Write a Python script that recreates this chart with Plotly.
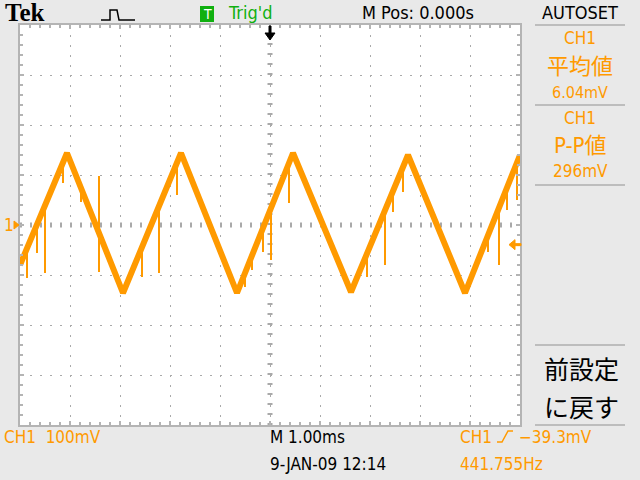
import plotly.graph_objects as go

wave_time_ms = [-5.0, -4.06, -2.94, -1.78, -0.66, 0.46, 1.62, 2.76, 3.90, 5.0]
wave_mV = [-80, 144, -136, 144, -136, 144, -134, 140, -136, 140]

spike_time_ms = [-4.86, -4.66, -4.50, -4.14, -3.78, -3.42, -2.56, -2.22, -1.86,
                 -0.50, -0.36, -0.14, 0.02, 0.38, 1.94, 2.30, 2.46, 2.66,
                 4.36, 4.58, 4.74, 4.94]
spike_top_mV = [-52, -4, 36, 124, 74, 98, -44, 38, 124,
                -96, -60, -6, 34, 124, -58, 30, 68, 116,
                -20, 34, 74, 126]
spike_bottom_mV = [-106, -56, -96, 84, 46, -94, -104, -96, 60,
                   -124, -90, -54, -70, 44, -104, -80, 26, 66,
                   -54, -80, 30, 50]

trigger_level_mV = -39.3

ORANGE = "#FF9A00"
GREY_BG = "#E9E9E9"
GRID = "#A9A9A9"
FONT = "Liberation Sans Narrow, DejaVu Sans Condensed, Arial Narrow, sans-serif"

# plot area in pixels: x 20..520, y 25..425
def PX(x):
    return (x - 20) / 500.0

def PY(y):
    return (425 - y) / 400.0

fig = go.Figure()

fig.add_trace(go.Scatter(x=wave_time_ms, y=wave_mV, mode="lines",
                         line=dict(color=ORANGE, width=6), hoverinfo="skip"))

sx, sy = [], []
for t, a, b in zip(spike_time_ms, spike_top_mV, spike_bottom_mV):
    sx += [t, t, None]
    sy += [a, b, None]
fig.add_trace(go.Scatter(x=sx, y=sy, mode="lines",
                         line=dict(color=ORANGE, width=2), hoverinfo="skip"))

axis_common = dict(showticklabels=False, showgrid=True, gridcolor=GRID, gridwidth=1,
                   griddash="2px,8px", zeroline=False, showline=True, linecolor="#B4B4B4",
                   linewidth=2, mirror="allticks", ticks="inside", ticklen=4,
                   tickcolor="#B4B4B4", tickwidth=2, fixedrange=True)

fig.update_xaxes(range=[-5, 5], dtick=1, tick0=0,
                 minor=dict(dtick=0.2, ticks="inside", ticklen=3, tickcolor="#B4B4B4",
                            tickwidth=2, showgrid=False),
                 **axis_common)
fig.update_yaxes(range=[-400, 400], dtick=100, tick0=0,
                 minor=dict(dtick=20, ticks="inside", ticklen=3, tickcolor="#B4B4B4",
                            tickwidth=2, showgrid=False),
                 **axis_common)

shapes = []
# centre cross-hair tick marks
shapes.append(dict(type="line", xref="x", yref="y", x0=0, x1=0, y0=-400, y1=400,
                   line=dict(color=GRID, width=5, dash="2px,8px"), layer="below"))
shapes.append(dict(type="line", xref="x", yref="y", x0=-5, x1=5, y0=0, y1=0,
                   line=dict(color=GRID, width=5, dash="2px,8px"), layer="below"))
# right panel separators
for yy in [25, 105, 185, 345, 425]:
    shapes.append(dict(type="line", xref="paper", yref="paper",
                       x0=PX(535), x1=PX(625), y0=PY(yy), y1=PY(yy),
                       line=dict(color="#BDBDBD", width=2)))
# trigger position arrow (top)
shapes.append(dict(type="path", xref="paper", yref="paper",
                   path=f"M {PX(269)},{PY(26)} L {PX(271)},{PY(26)} L {PX(271)},{PY(33)} "
                        f"L {PX(275)},{PY(33)} L {PX(270)},{PY(40)} L {PX(265)},{PY(33)} "
                        f"L {PX(269)},{PY(33)} Z",
                   fillcolor="black", line=dict(color="black", width=1)))
# trigger level arrow (right)
ty = 225 - trigger_level_mV / 2.0
shapes.append(dict(type="path", xref="paper", yref="paper",
                   path=f"M {PX(509)},{PY(ty)} L {PX(515)},{PY(ty-5)} L {PX(515)},{PY(ty-1)} "
                        f"L {PX(521)},{PY(ty-1)} L {PX(521)},{PY(ty+1)} L {PX(515)},{PY(ty+1)} "
                        f"L {PX(515)},{PY(ty+5)} Z",
                   fillcolor=ORANGE, line=dict(color=ORANGE, width=1)))
# ground marker arrow (left)
shapes.append(dict(type="path", xref="paper", yref="paper",
                   path=f"M {PX(19)},{PY(225)} L {PX(14)},{PY(221)} L {PX(14)},{PY(229)} Z",
                   fillcolor=ORANGE, line=dict(color=ORANGE, width=1)))
# trigger icon in the top bar
shapes.append(dict(type="path", xref="paper", yref="paper",
                   path=f"M {PX(101)},{PY(20)} L {PX(110)},{PY(20)} L {PX(110)},{PY(10)} "
                        f"L {PX(117)},{PY(10)} L {PX(119)},{PY(20)} L {PX(135)},{PY(20)}",
                   line=dict(color="black", width=1.5)))
# rising-edge symbol in the trigger readout
shapes.append(dict(type="path", xref="paper", yref="paper",
                   path=f"M {PX(497)},{PY(442)} L {PX(502)},{PY(442)} L {PX(508)},{PY(431)} "
                        f"L {PX(513)},{PY(431)}",
                   line=dict(color=ORANGE, width=1.5)))
# green T box
shapes.append(dict(type="rect", xref="paper", yref="paper",
                   x0=PX(200), x1=PX(214), y0=PY(22), y1=PY(6),
                   fillcolor="#10B010", line=dict(width=0)))

fig.update_layout(shapes=shapes)

def txt(x, y, s, color="black", size=16, anchor="left", family=FONT, bold=False):
    fig.add_annotation(xref="paper", yref="paper", x=PX(x), y=PY(y), text=(f"<b>{s}</b>" if bold else s),
                       showarrow=False, xanchor=anchor, yanchor="middle",
                       font=dict(color=color, size=size, family=family))

txt(3, 12, "Tek", size=25, family="Liberation Serif, DejaVu Serif, serif", bold=True)
txt(207, 14, "T", color="white", size=14, anchor="center")
txt(226, 13, "Trig'd", color="#10B010", size=18)
txt(360, 13, "M Pos: 0.000s", size=18)
txt(580, 13, "AUTOSET", size=18, anchor="center")

txt(580, 38, "CH1", color=ORANGE, size=17, anchor="center")
txt(580, 64, "平均値", color=ORANGE, size=22, anchor="center", family="Noto Sans CJK JP")
txt(580, 92, "6.04mV", color=ORANGE, size=16, anchor="center")
txt(580, 118, "CH1", color=ORANGE, size=17, anchor="center")
txt(580, 145, "P-P値", color=ORANGE, size=22, anchor="center", family=FONT + ", Noto Sans CJK JP")
txt(580, 171, "296mV", color=ORANGE, size=17, anchor="center")

txt(581, 368, "前設定", size=25, anchor="center", family="Noto Sans CJK JP")
txt(581, 406, "に戻す", size=25, anchor="center", family="Noto Sans CJK JP")

txt(2, 225, "1", color=ORANGE, size=17)

txt(2, 437, "CH1  100mV", color=ORANGE, size=17)
txt(268, 437, "M 1.00ms", size=17)
txt(268, 464, "9-JAN-09 12:14", size=17)
txt(458, 437, "CH1", color=ORANGE, size=17)
txt(517, 437, "−39.3mV", color=ORANGE, size=17)
txt(458, 464, "441.755Hz", color=ORANGE, size=17)

fig.update_layout(width=640, height=480, autosize=False,
                  margin=dict(l=20, r=120, t=25, b=55),
                  paper_bgcolor=GREY_BG, plot_bgcolor="white",
                  showlegend=False)

fig.write_html("out.html", config={"displayModeBar": False},
               post_script="document.body.style.margin='0';document.body.style.background='" + GREY_BG + "';")
